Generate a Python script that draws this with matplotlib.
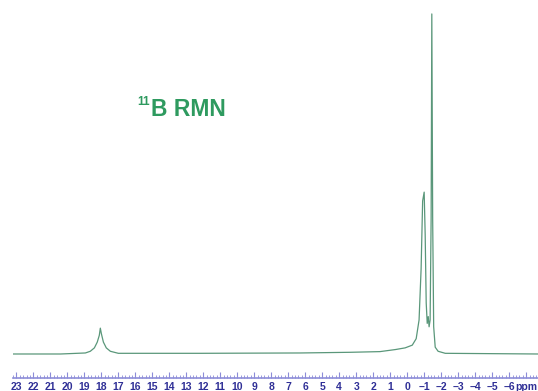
import numpy as np
import matplotlib.pyplot as plt
from matplotlib.ticker import MultipleLocator, FixedLocator, FixedFormatter

# Spectre 11B (ppm, intensite relative %)
ppm = [23.2, 20.4, 18.94, 18.65, 18.41, 18.24, 18.12, 18.06, 18.0, 17.88,
       17.71, 17.47, 17.0, 12.2, 6.3, 3.35, 1.6, 0.7, 0.12, -0.3,
       -0.53, -0.7, -0.82, -0.91, -1.0, -1.06, -1.12, -1.18, -1.24, -1.29,
       -1.35, -1.41, -1.45, -1.5, -1.56, -1.65, -1.82, -2.24, -7.7]
intensite = [0.0, 0.0, 0.3, 0.8, 1.8, 3.5, 5.5, 7.6, 6.0, 3.5,
             1.8, 0.8, 0.2, 0.2, 0.3, 0.5, 0.7, 1.3, 1.8, 2.6,
             4.5, 10.0, 25.0, 45.0, 47.6, 35.0, 15.0, 9.0, 11.0, 8.0,
             10.0, 40.0, 100.0, 40.0, 8.0, 2.0, 0.8, 0.2, 0.0]

graduations = list(range(23, -8, -1))
etiquettes = [f"{g}".replace("-", "\u2013") for g in graduations[:-1]] + ["ppm"]

plt.rcParams['font.family'] = ['Liberation Sans', 'DejaVu Sans']

fig = plt.figure(figsize=(5.38, 3.91), dpi=100)
ax = fig.add_axes([13 / 538, 13 / 391, 1 - 13 / 538, 378 / 391])

ax.plot(ppm, intensite, color='#5a977a', lw=0.9)

ax.set_xlim(23.2, -7.7)
ax.set_ylim(-7.06, 104.1)

for cote in ['top', 'left', 'right']:
    ax.spines[cote].set_visible(False)
ax.spines['bottom'].set_color('#8c8cd8')
ax.spines['bottom'].set_linewidth(1.2)
ax.set_yticks([])

ax.xaxis.set_major_locator(FixedLocator(graduations))
ax.xaxis.set_major_formatter(FixedFormatter(etiquettes))
ax.xaxis.set_minor_locator(MultipleLocator(0.2))
ax.tick_params(axis='x', which='major', direction='in', length=4, width=0.8,
               color='#8c8cd8', labelcolor='#2f2f96', labelsize=7.5, pad=3)
ax.tick_params(axis='x', which='minor', direction='in', length=2, width=0.6,
               color='#8c8cd8')
for lab in ax.get_xticklabels():
    lab.set_fontweight('bold')

fig.text(151 / 538, (391 - 116) / 391, "B RMN", color='#2e9a5f',
         fontsize=16.5, fontweight='bold', va='baseline')
fig.text(137 / 538, (391 - 105) / 391, "11", color='#2e9a5f',
         fontsize=8.5, fontweight='bold', va='baseline')

fig.savefig('out.png', dpi=100)
